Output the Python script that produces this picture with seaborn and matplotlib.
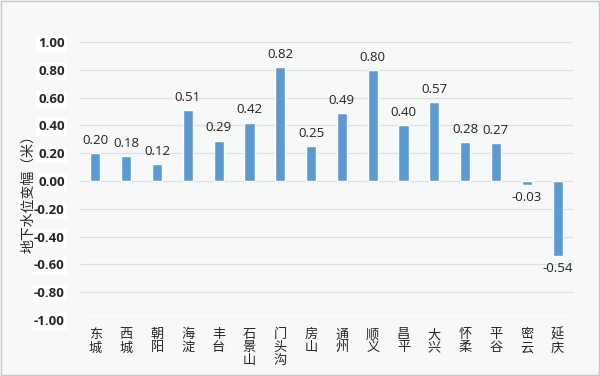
import numpy as np
import pandas as pd
import matplotlib
matplotlib.use("Agg")
import matplotlib.pyplot as plt
import seaborn as sns

# 数据
districts = ["东城", "西城", "朝阳", "海淀", "丰台", "石景山", "门头沟", "房山",
             "通州", "顺义", "昌平", "大兴", "怀柔", "平谷", "密云", "延庆"]
changes = [0.20, 0.18, 0.12, 0.51, 0.29, 0.42, 0.82, 0.25,
           0.49, 0.80, 0.40, 0.57, 0.28, 0.27, -0.03, -0.54]
yticks = [-1.0, -0.8, -0.6, -0.4, -0.2, 0.0, 0.2, 0.4, 0.6, 0.8, 1.0]

df = pd.DataFrame({"district": districts, "change": changes})

sns.set_style("white")
plt.rcParams['font.family'] = ['Noto Sans CJK SC', 'DejaVu Sans']

bg = '#f7f9f9'
fig = plt.figure(figsize=(6, 3.76), dpi=100, facecolor=bg)
ax = fig.add_axes([80 / 600, 1 - 320 / 376, 493 / 600, 278 / 376])
ax.set_facecolor(bg)

sns.barplot(data=df, x="district", y="change", color="#5b9bd5",
            width=0.33, saturation=1, ax=ax, zorder=3)

ax.set_ylim(-1.0, 1.0)
ax.set_yticks(yticks)
ax.set_yticklabels([f"{v:.2f}" for v in yticks], fontweight='bold',
                   fontsize=9.5, family=['Open Sans', 'DejaVu Sans'])
for lbl in ax.get_yticklabels():
    lbl.set_bbox(dict(facecolor='white', edgecolor='none', pad=1.5))
ax.yaxis.grid(True, color='#e0e0e0', linewidth=0.9, zorder=0)
ax.set_axisbelow(True)
for s in ax.spines.values():
    s.set_visible(False)
ax.tick_params(axis='y', length=0, pad=11)
ax.tick_params(axis='x', length=0, pad=6)

# 竖排区名
ax.set_xticks(range(len(districts)))
ax.set_xticklabels(["\n".join(d) for d in districts], fontsize=9.5,
                   linespacing=1.0, va='top')
ax.set_xlabel("")
ax.set_ylabel("地下水位变幅（米）", fontsize=10)
ax.yaxis.set_label_coords(-0.09, 0.464)

# 数值标注
for i, v in enumerate(changes):
    off = 0.045 if v >= 0 else -0.045
    ax.text(i, v + off, f"{v:.2f}", ha='center',
            va='bottom' if v >= 0 else 'top', fontsize=9.5,
            family=['Open Sans', 'DejaVu Sans'], color='#222222')

# 外框
fig.patches.append(plt.Rectangle((0.002, 0.003), 0.996, 0.994,
                                 transform=fig.transFigure, fill=False,
                                 edgecolor='#c8c8c8', linewidth=1))

fig.savefig("out.png", dpi=100, facecolor=bg)
